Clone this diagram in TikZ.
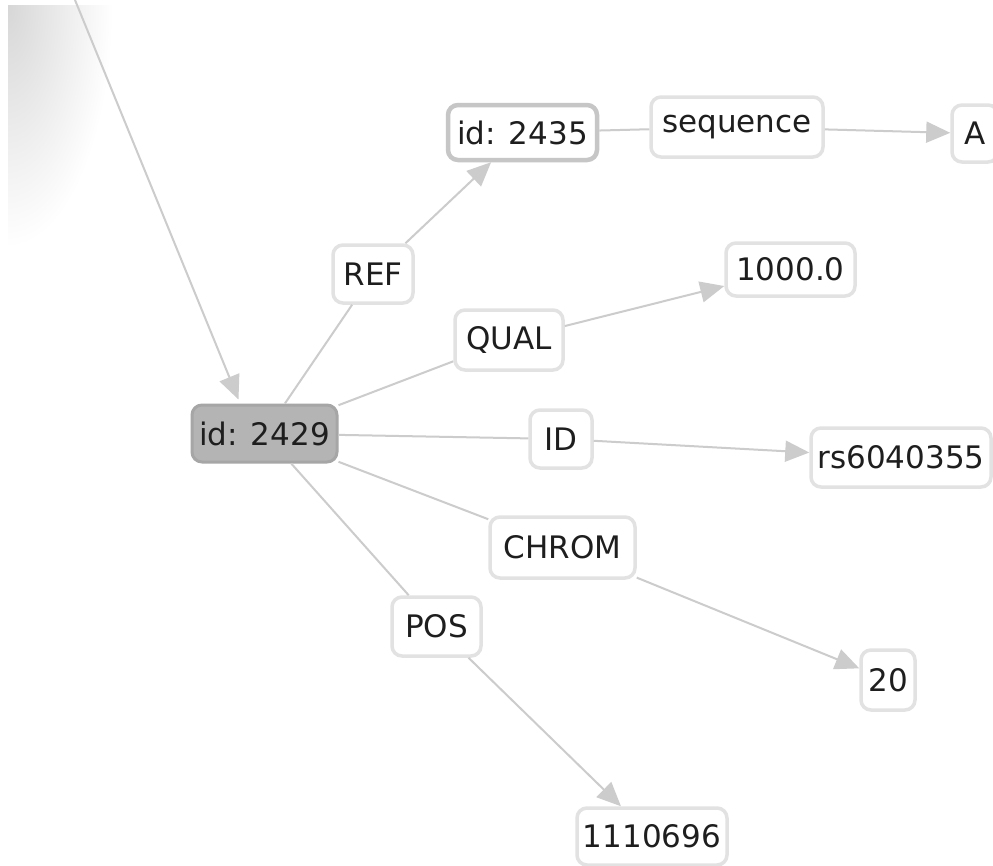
\documentclass[tikz,border=0pt]{standalone}
\usepackage{fontspec}
\setmainfont{DejaVu Sans}
\usetikzlibrary{arrows.meta,calc}
\definecolor{edgegray}{HTML}{CCCCCC}
\definecolor{boxgray}{HTML}{E2E2E2}
\definecolor{idborder}{HTML}{C6C6C6}
\definecolor{selfill}{HTML}{B4B4B4}
\definecolor{selborder}{HTML}{A6A6A6}
\definecolor{ink}{HTML}{1E1E1E}
\tikzset{
  box/.style 2 args={draw=boxgray, line width=3.5pt, fill=white, rounded corners=10pt,
    minimum width=#1, minimum height=#2, inner xsep=3pt, inner ysep=2pt,
    text=ink, font=\fontsize{31}{36}\selectfont},
  idbox/.style 2 args={box={#1}{#2}, draw=idborder, line width=4.5pt},
  selbox/.style 2 args={box={#1}{#2}, draw=selborder, fill=selfill, line width=3pt},
  link/.style={draw=edgegray, line width=2pt},
  arrowlink/.style={link, -{Triangle[length=24pt,width=21pt]}},
}
\begin{document}
\begin{tikzpicture}[x=1pt,y=-1pt]
\clip (0,0) rectangle (993,865);
\useasboundingbox (0,0) rectangle (993,865);
\fill[white] (0,0) rectangle (993,865);
% soft grey glow in the upper left corner, built from stacked translucent ellipses
\begin{scope}
  \clip (8,5) rectangle (200,300);
  \foreach \i in {1,...,40}
    \fill[black, fill opacity=0.005] (8,5) ellipse [x radius=2.6*\i, y radius=6*\i];
\end{scope}

% nodes
\node[selbox={145pt}{57pt}] (n2429) at (264.5,433.5) {id: 2429};
\node[idbox={149pt}{55pt}]  (n2435) at (522.5,132.5) {id: 2435};
\node[box={172pt}{60pt}]    (seq)   at (737,127)     {sequence};
\node[box={46pt}{57pt}]     (valA)  at (975,133.5)   {A};
\node[box={80pt}{58pt}]     (ref)   at (373,274)     {REF};
\node[box={129pt}{53pt}]    (qval)  at (790.5,269.5) {1000.0};
\node[box={108pt}{60pt}]    (qual)  at (509,340)     {QUAL};
\node[box={62pt}{58pt}]     (idl)   at (561,439)     {ID};
\node[box={180pt}{59pt}]    (rsid)  at (901,457.5)   {rs6040355};
\node[box={145pt}{61pt}]    (chrom) at (562.5,547.5) {CHROM};
\node[box={54pt}{60pt}]     (cval)  at (888,680)     {20};
\node[box={89pt}{59pt}]     (pos)   at (436.5,626.5) {POS};
\node[box={150pt}{57pt}]    (pval)  at (652,836.5)   {1110696};

\coordinate (src) at (75,0);

% connectors
\draw[arrowlink] (src) -- ($(n2429.north)+(-26,-4)$);
\draw[link] (n2429) -- (ref);
\draw[arrowlink] (ref) -- (n2435);
\draw[link] (n2435) -- (seq);
\draw[arrowlink] (seq) -- (valA);
\draw[link] (n2429) -- (qual);
\draw[arrowlink] (qual) -- (qval);
\draw[link] (n2429) -- (idl);
\draw[arrowlink] (idl) -- (rsid);
\draw[link] (n2429) -- (chrom);
\draw[arrowlink] (chrom) -- (cval);
\draw[link] (n2429) -- (pos);
\draw[arrowlink] (pos) -- (pval);
\end{tikzpicture}
\end{document}
